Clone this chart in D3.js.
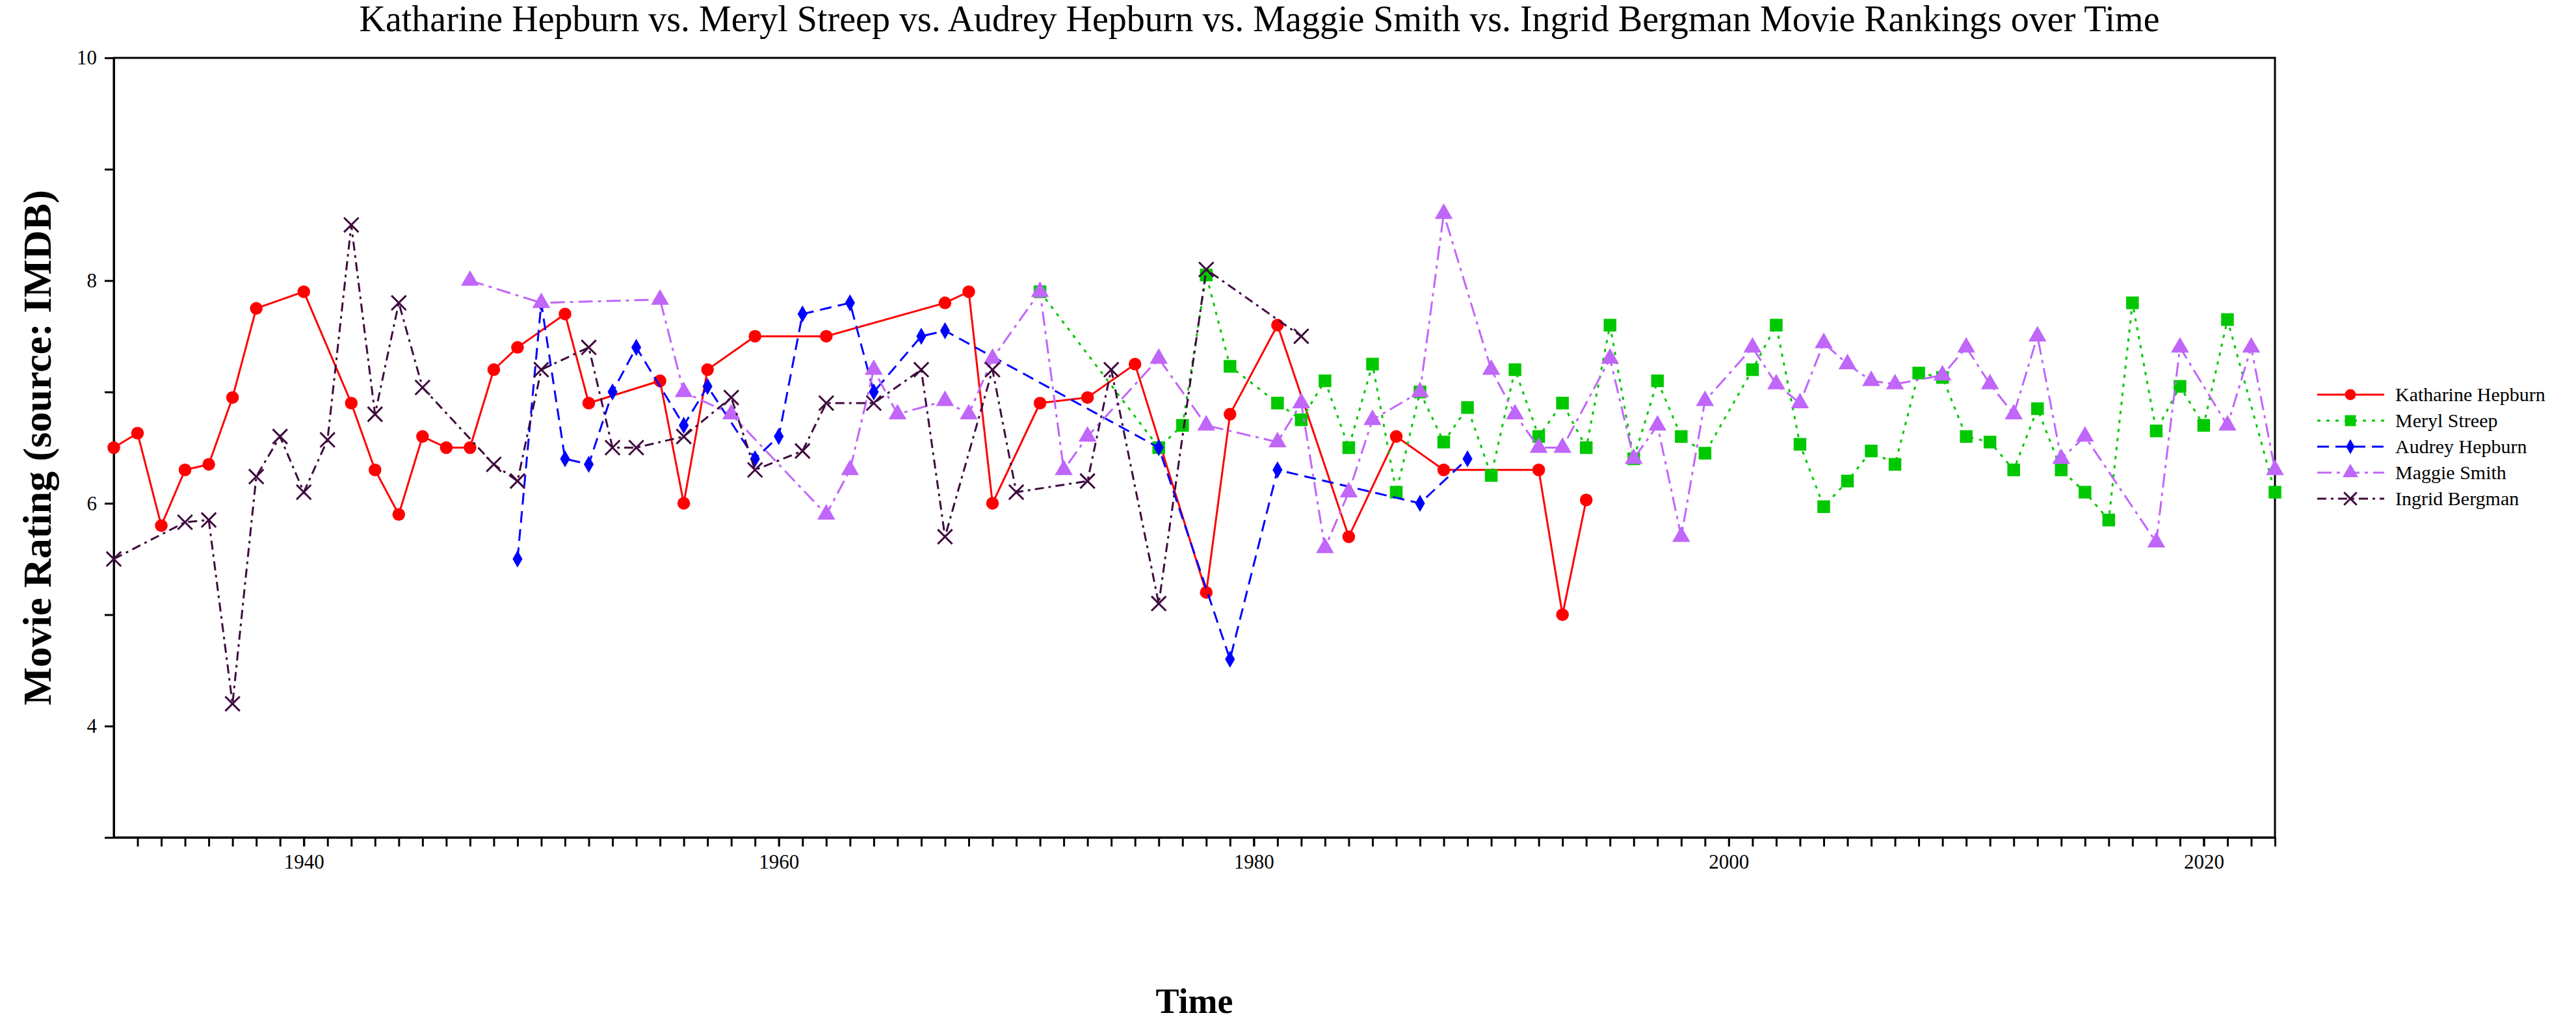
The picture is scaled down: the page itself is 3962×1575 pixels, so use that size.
<!DOCTYPE html>
<html>
<head>
<meta charset="utf-8">
<script src="https://cdn.jsdelivr.net/npm/d3@7"></script>
<style>
  body { margin: 0; background: #fff; }
  svg { font-family: "Liberation Serif", "DejaVu Serif", serif; }
</style>
</head>
<body>
<svg id="chart" width="3962" height="1575"></svg>
<script>
    "use strict";

    // Ratings, as [year, rating].
    var katharineHepburn = [
        [1932, 6.5], [1933, 6.63], [1934, 5.8], [1935, 6.3], [1936, 6.35], [1937, 6.95],
        [1938, 7.75], [1940, 7.9], [1942, 6.9], [1943, 6.3], [1944, 5.9], [1945, 6.6],
        [1946, 6.5], [1947, 6.5], [1948, 7.2], [1949, 7.4], [1951, 7.7], [1952, 6.9],
        [1955, 7.1], [1956, 6.0], [1957, 7.2], [1959, 7.5], [1962, 7.5], [1967, 7.8],
        [1968, 7.9], [1969, 6.0], [1971, 6.9], [1973, 6.95], [1975, 7.25], [1978, 5.2],
        [1979, 6.8], [1981, 7.6], [1984, 5.7], [1986, 6.6], [1988, 6.3], [1992, 6.3],
        [1993, 5.0], [1994, 6.03]
    ];
    var merylStreep = [
        [1971, 7.9], [1976, 6.5], [1977, 6.7], [1978, 8.05], [1979, 7.23], [1981, 6.9],
        [1982, 6.75], [1983, 7.1], [1984, 6.5], [1985, 7.25], [1986, 6.1], [1987, 7.0],
        [1988, 6.55], [1989, 6.86], [1990, 6.25], [1991, 7.2], [1992, 6.6], [1993, 6.9],
        [1994, 6.5], [1995, 7.6], [1996, 6.4], [1997, 7.1], [1998, 6.6], [1999, 6.45],
        [2001, 7.2], [2002, 7.6], [2003, 6.53], [2004, 5.97], [2005, 6.2], [2006, 6.47],
        [2007, 6.35], [2008, 7.17], [2009, 7.13], [2010, 6.6], [2011, 6.55], [2012, 6.3],
        [2013, 6.85], [2014, 6.3], [2015, 6.1], [2016, 5.85], [2017, 7.8], [2018, 6.65],
        [2019, 7.05], [2020, 6.7], [2021, 7.65], [2023, 6.1]
    ];
    var audreyHepburn = [
        [1949, 5.5], [1950, 7.8], [1951, 6.4], [1952, 6.35], [1953, 7.0], [1954, 7.4],
        [1956, 6.7], [1957, 7.05], [1959, 6.4], [1960, 6.6], [1961, 7.7], [1963, 7.8],
        [1964, 7.0], [1966, 7.5], [1967, 7.55], [1976, 6.5], [1979, 4.6], [1981, 6.3],
        [1987, 6.0], [1989, 6.4]
    ];
    var maggieSmith = [
        [1947, 8.0], [1950, 7.8], [1955, 7.83], [1956, 7.0], [1958, 6.8], [1962, 5.9],
        [1963, 6.3], [1964, 7.2], [1965, 6.8], [1967, 6.92], [1968, 6.8], [1969, 7.3],
        [1971, 7.9], [1972, 6.3], [1973, 6.6], [1976, 7.3], [1978, 6.7], [1981, 6.55],
        [1982, 6.9], [1983, 5.6], [1984, 6.1], [1985, 6.75], [1987, 7.0], [1988, 8.6],
        [1990, 7.2], [1991, 6.8], [1992, 6.5], [1993, 6.5], [1995, 7.3], [1996, 6.4],
        [1997, 6.7], [1998, 5.7], [1999, 6.92], [2001, 7.4], [2002, 7.07], [2003, 6.9],
        [2004, 7.44], [2005, 7.25], [2006, 7.1], [2007, 7.07], [2009, 7.15], [2010, 7.4],
        [2011, 7.07], [2012, 6.8], [2013, 7.5], [2014, 6.4], [2015, 6.6], [2018, 5.65],
        [2019, 7.4], [2021, 6.7], [2022, 7.4], [2023, 6.3]
    ];
    var ingridBergman = [
        [1932, 5.5], [1935, 5.83], [1936, 5.85], [1937, 4.2], [1938, 6.24], [1939, 6.6],
        [1940, 6.1], [1941, 6.57], [1942, 8.5], [1943, 6.8], [1944, 7.8], [1945, 7.04],
        [1948, 6.35], [1949, 6.2], [1950, 7.2], [1952, 7.4], [1953, 6.5], [1954, 6.5],
        [1956, 6.6], [1958, 6.95], [1959, 6.3], [1961, 6.47], [1962, 6.9], [1964, 6.9],
        [1966, 7.2], [1967, 5.7], [1969, 7.2], [1970, 6.1], [1973, 6.2], [1974, 7.2],
        [1976, 5.1], [1978, 8.1], [1982, 7.5]
    ];

    var seriesNames = ["Katharine Hepburn", "Meryl Streep", "Audrey Hepburn", "Maggie Smith", "Ingrid Bergman"];
    var seriesData = [katharineHepburn, merylStreep, audreyHepburn, maggieSmith, ingridBergman];
    var xTicks = [1940, 1960, 1980, 2000, 2020];
    var yTicks = [4, 6, 8, 10];

    (function () {
        var styles = [
            {color: "#ff0000", dash: null, symbol: d3.symbolCircle, size: 300, stroke: false},
            {color: "#00c800", dash: "5,9", symbol: d3.symbolSquare, size: 380, stroke: false},
            {color: "#0000ff", dash: "18,10", symbol: d3.symbolDiamond, size: 200, stroke: false},
            {color: "#c066f8", dash: "22,8,5,8", symbol: d3.symbolTriangle, size: 330, stroke: false},
            {color: "#3f0a3f", dash: "14,7,4,7", symbol: d3.symbolX, size: 330, stroke: true}
        ];

        var left = 175, plotTop = 89, right = 3499, bottom = 1288;
        var svg = d3.select("#chart");

        var x = d3.scaleLinear().domain([1932, 2023]).range([left, right]);
        var y = d3.scaleLinear().domain([3, 10]).range([bottom, plotTop]);

        // Title and axis titles.
        svg.append("text")
            .attr("x", (left + right) / 2 + 100)
            .attr("y", 48)
            .attr("text-anchor", "middle")
            .style("font-size", "56px")
            .text("Katharine Hepburn vs. Meryl Streep vs. Audrey Hepburn vs. Maggie Smith vs. Ingrid Bergman Movie Rankings over Time");

        svg.append("text")
            .attr("transform", "translate(78," + ((plotTop + bottom) / 2) + ") rotate(-90)")
            .attr("text-anchor", "middle")
            .style("font-size", "62px")
            .style("font-weight", "bold")
            .text("Movie Rating (source: IMDB)");

        svg.append("text")
            .attr("x", (left + right) / 2)
            .attr("y", 1558)
            .attr("text-anchor", "middle")
            .style("font-size", "54px")
            .style("font-weight", "bold")
            .text("Time");

        // Axes: major ticks with labels, minor ticks every unit.
        var xAxis = svg.append("g").attr("transform", "translate(0," + bottom + ")");
        xAxis.call(d3.axisBottom(x).tickValues(d3.range(1933, 2024)).tickFormat("").tickSize(14).tickSizeOuter(0));
        xAxis.append("g").call(d3.axisBottom(x).tickValues(xTicks).tickFormat(d3.format("d")).tickSize(14).tickPadding(12).tickSizeOuter(0));

        var yAxis = svg.append("g").attr("transform", "translate(" + left + ",0)");
        yAxis.call(d3.axisLeft(y).tickValues([3, 5, 7, 9]).tickFormat("").tickSize(14).tickSizeOuter(0));
        yAxis.append("g").call(d3.axisLeft(y).tickValues(yTicks).tickFormat(d3.format("d")).tickSize(14).tickPadding(12).tickSizeOuter(0));

        svg.selectAll(".tick text").style("font-size", "31px").style("font-family", "Liberation Serif, serif");
        svg.selectAll(".domain, .tick line").attr("stroke", "#000").attr("stroke-width", 3);

        svg.append("rect")
            .attr("x", left).attr("y", plotTop)
            .attr("width", right - left).attr("height", bottom - plotTop)
            .attr("fill", "none").attr("stroke", "#000").attr("stroke-width", 3);

        var line = d3.line().x(function (d) { return x(d[0]); }).y(function (d) { return y(d[1]); });

        seriesData.forEach(function (data, i) {
            var st = styles[i],
                g = svg.append("g");

            g.append("path")
                .datum(data)
                .attr("d", line)
                .attr("fill", "none")
                .attr("stroke", st.color)
                .attr("stroke-width", 3)
                .attr("stroke-dasharray", st.dash);

            g.selectAll("path.mark")
                .data(data)
                .enter().append("path")
                .attr("class", "mark")
                .attr("transform", function (d) { return "translate(" + x(d[0]) + "," + y(d[1]) + ")"; })
                .attr("d", d3.symbol().type(st.symbol).size(st.size))
                .attr("fill", st.stroke ? "none" : st.color)
                .attr("stroke", st.stroke ? st.color : "none")
                .attr("stroke-width", 3);
        });

        // Legend.
        var legend = svg.append("g").attr("transform", "translate(3564,607)");
        seriesNames.forEach(function (name, i) {
            var st = styles[i],
                row = legend.append("g").attr("transform", "translate(0," + (i * 40) + ")");

            row.append("line")
                .attr("x1", 0).attr("x2", 103)
                .attr("stroke", st.color)
                .attr("stroke-width", 3)
                .attr("stroke-dasharray", st.dash);
            row.append("path")
                .attr("transform", "translate(51,0)")
                .attr("d", d3.symbol().type(st.symbol).size(st.size * 0.75))
                .attr("fill", st.stroke ? "none" : st.color)
                .attr("stroke", st.stroke ? st.color : "none")
                .attr("stroke-width", 3);
            row.append("text")
                .attr("x", 120).attr("y", 10)
                .style("font-size", "30px")
                .text(name);
        });
    }());
</script>
</body>
</html>
